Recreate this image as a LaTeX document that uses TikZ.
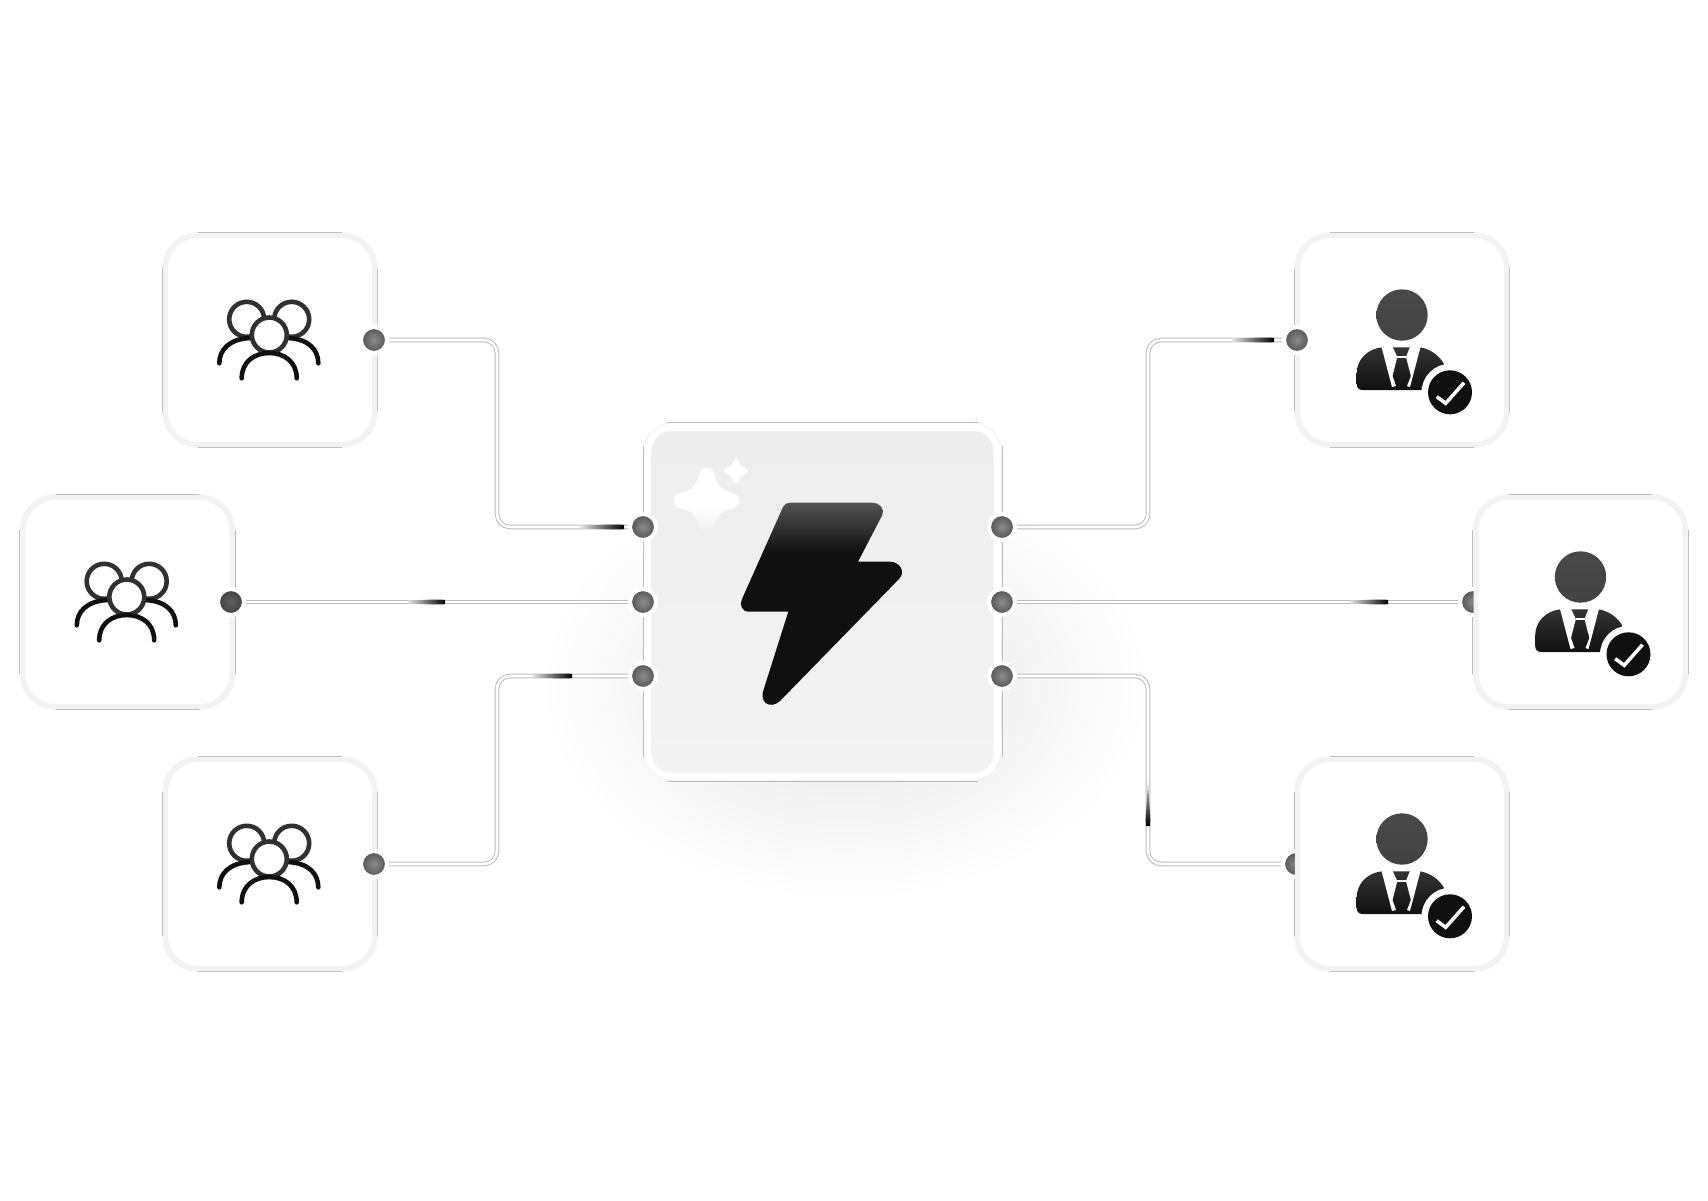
\documentclass[tikz,border=0pt]{standalone}
\usepackage{amsmath,amssymb}
\usepackage{tikz}
\usetikzlibrary{calc}

\definecolor{rimc}{HTML}{BDBDBD}
\definecolor{palec}{HTML}{F2F2F2}
\definecolor{corec}{HTML}{EDEDED}
\definecolor{ink}{HTML}{101010}
\pgfdeclareverticalshading{boltfade}{100bp}{color(0bp)=(ink); color(63bp)=(ink); color(75bp)=(ink!72!white); color(100bp)=(ink!72!white)}
\pgfdeclareverticalshading{sparkfade}{100bp}{color(0bp)=(corec); color(27bp)=(corec); color(45bp)=(white); color(100bp)=(white)}
\pgfdeclareverticalshading{headfade}{100bp}{color(0bp)=(ink!80!white); color(100bp)=(ink!75!white)}
\pgfdeclareverticalshading{bodyfade}{100bp}{color(0bp)=(ink); color(25bp)=(ink); color(75bp)=(ink!85!white); color(100bp)=(ink!85!white)}

\tikzset{
    tile/.style={draw=palec,line width=.8pt,rounded corners=36pt,minimum size=215pt,inner sep=0pt},
    tileface/.style={draw=palec,fill=white,line width=5pt,rounded corners=33pt,minimum size=209pt,inner sep=0pt},
    rim/.style={draw=rimc,line width=1pt},
    portdot/.style={circle,draw=white,line width=4pt,minimum size=26pt,inner sep=0pt,shade,inner color=black!45,outer color=black!68},
    wire/.style={draw=rimc,line width=1pt,double=white,double distance=2.6pt,rounded corners=13pt},
    people/.pic={
        \draw[line width=4.6pt,draw=ink!86!white] (-23.3,-20.7) circle (17.5pt);
        \draw[line width=4.6pt,draw=ink!86!white] (21.7,-20.7) circle (17.5pt);
        \draw[line width=4.6pt,draw=ink,line cap=round] (-50.7,23.3) .. controls (-50.7,10) and (-41,-1) .. (-20,-2);
        \draw[line width=4.6pt,draw=ink,line cap=round] (48.3,23.3) .. controls (48.3,10) and (39,-1) .. (18,-2);
        \draw[line width=4.6pt,draw=ink!86!white,fill=white] (-.7,-5) circle (17.5pt);
        \draw[line width=4.6pt,draw=ink,line cap=round] (-28.3,38.3) .. controls (-28.3,22) and (-16,13) .. (-.7,13) .. controls (14.5,13) and (26.7,22) .. (26.7,38.3);
    },
    agent/.pic={
        \shade[shading=headfade] (0,-25) circle (25.7pt);
        \shade[shading=bodyfade] (-20.3,7.3) .. controls (-35,9) and (-45.3,20) .. (-45.3,33.3) -- (-45.3,44) .. controls (-45.3,48) and (-43,50) .. (-39,50) -- (42,50) -- (42,24) .. controls (37,15) and (28,9) .. (18,7.3) -- cycle;
        \fill[white] (-21,5) -- (-10.3,5) -- (-4.7,17) -- (-9.5,36) -- (-6,46) -- (-10,47) -- cycle;
        \fill[white] (19,5) -- (8.7,5) -- (4,17) -- (8.9,36) -- (5,46) -- (8,47) -- cycle;
        \fill[white] (-5,16.4) rectangle (4.5,18);
        \fill[white] (-10.3,3) rectangle (9,6.7);
        \fill[white] (48,52.3) circle (28.5pt);
        \fill[ink] (48,52.3) circle (22pt);
        \draw[white,line width=3.5pt] (34.7,56.7) -- (43.7,63.3) -- (62,42.7);
    },
    spark/.pic={
        \path[pic actions] (-8,-26) .. controls (-4,-35) and (4,-35) .. (8,-26) .. controls (10,-15) and (15,-10) .. (26,-8) .. controls (35,-4) and (35,4) .. (26,8) .. controls (15,10) and (10,15) .. (8,26) .. controls (4,35) and (-4,35) .. (-8,26) .. controls (-10,15) and (-15,10) .. (-26,8) .. controls (-35,4) and (-35,-4) .. (-26,-8) .. controls (-15,-10) and (-10,-15) .. (-8,-26) -- cycle;
    }
}

\begin{document}
\begin{tikzpicture}[x=1pt,y=-1pt]
    \path[use as bounding box,fill=white] (0,0) rectangle (1708,1200);
    \shade[inner color=black!11,outer color=white] (845,685) ellipse (305pt and 215pt);

    \foreach \n/\x/\y in {ua/270/340,ub/127.5/602,uc/270/864,aa/1402/340,ab/1580.5/602,ac/1402/864}{
        \node[tile] (\n) at (\x,\y) {};
        \draw[rim] ($(\n.north west)+(36,0)$) -- ($(\n.north east)+(-36,0)$);
        \draw[rim] ($(\n.south west)+(36,0)$) -- ($(\n.south east)+(-36,0)$);
        \draw[rim] ($(\n.north west)+(0,36)$) -- ($(\n.south west)+(0,-36)$);
        \draw[rim] ($(\n.north east)+(0,36)$) -- ($(\n.south east)+(0,-36)$);
    }
    \node[portdot] (db) at (1473,602) {};
    \node[portdot] (dc) at (1296,864) {};
    \foreach \n/\x/\y in {ua/270/340,ub/127.5/602,uc/270/864,aa/1402/340,ab/1580.5/602,ac/1402/864}
        \node[tileface] (\n f) at (\x,\y) {};

    \node[draw=palec,fill=white,line width=1pt,rounded corners=30pt,minimum size=358pt,inner sep=0pt] (core) at (822.5,601.5) {};
    \draw[rim] ($(core.north west)+(24,0)$) -- ($(core.north east)+(-24,0)$);
    \draw[rim] ($(core.south west)+(24,0)$) -- ($(core.south east)+(-24,0)$);
    \draw[rim] ($(core.north west)+(0,24)$) -- ($(core.south west)+(0,-24)$);
    \draw[rim] ($(core.north east)+(0,24)$) -- ($(core.south east)+(0,-24)$);
    \node[top color=corec,bottom color=palec,rounded corners=20pt,minimum size=342pt,inner sep=0pt] (coref) at (822.5,602) {};

    \foreach \n/\x/\y in {sa/374/340,sc/374/864,la/643/527,lb/643/602,lc/643/676,ra/1002/527,rb/1002/602,rc/1002/676,da/1297/340}
        \node[portdot] (\n) at (\x,\y) {};
    \node[portdot,inner color=black!62,outer color=black!75] (sb) at (231,602) {};

    \coordinate (bl) at (497,0);
    \coordinate (br) at (1148,0);
    \draw[wire] (sa) -- (sa -| bl) -- (la -| bl) -- (la);
    \draw[wire] (sb) -- (lb);
    \draw[wire] (sc) -- (sc -| bl) -- (lc -| bl) -- (lc);
    \draw[wire] (ra) -- (ra -| br) -- (da -| br) -- (da);
    \draw[wire] (rb) -- (db);
    \draw[wire] (rc) -- (rc -| br) -- (dc -| br) -- (dc);

    \foreach \a/\b/\y in {580/624/527,408/445/602,532/572/676,1232/1274/340,1350/1388/602}
        \shade[left color=black!10,right color=black] (\a,\y-1.5) -- (\b-12,\y-2.5) -- (\b,\y-2.2) -- (\b,\y+2.2) -- (\b-12,\y+2.5) -- (\a,\y+1.5) -- cycle;
    \shade[top color=black!20,bottom color=black] (1148,782) -- (1145.6,820) -- (1146,826) -- (1150,826) -- (1150.4,820) -- cycle;

    \shade[shading=boltfade] (790,502.7) -- (872,502.7) .. controls (880,502.7) and (885,509) .. (882.3,515) -- (858,561.7) -- (890,561.7) .. controls (900,561.7) and (906,572) .. (899,579) -- (780,701) .. controls (770,710) and (759,702) .. (763.5,690) -- (788.3,611.7) -- (749,611.7) .. controls (742,611.7) and (739,605) .. (742,599) -- (783,507) .. controls (784.5,504) and (787,502.7) .. (790,502.7) -- cycle;
    \pic[shade,shading=sparkfade] at (706.7,500.7) {spark};
    \pic[fill=white,scale=.36] at (736,471) {spark};

    \foreach \n in {ua,ub,uc}
        \pic at (\n) {people};
    \foreach \n in {aa,ab,ac}
        \pic at (\n) {agent};
\end{tikzpicture}
\end{document}
